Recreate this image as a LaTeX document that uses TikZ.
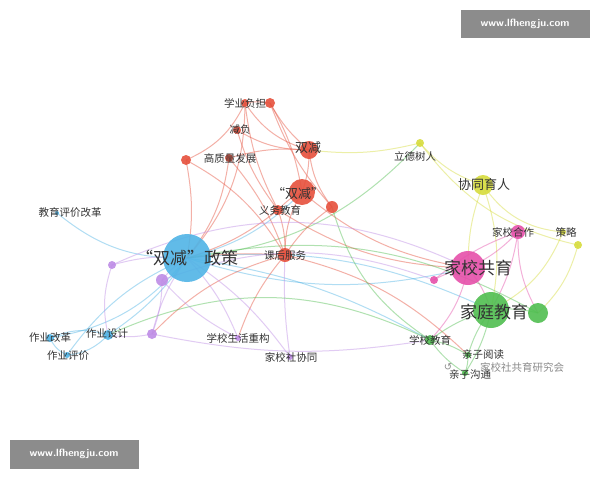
\documentclass[tikz,border=0pt]{standalone}
\usepackage{fontspec}
\newfontfamily\cjk{Noto Sans CJK SC}
\newfontfamily\djv{DejaVu Sans}
\begin{document}
\begin{tikzpicture}[x=1pt,y=-1pt,
 lb/.style={font=\cjk\fontsize{10.5}{10.5}\selectfont,text=black!80,inner sep=0pt},
 mid/.style={font=\cjk\fontsize{13}{13}\selectfont,text=black!80,inner sep=0pt},
 big/.style={font=\cjk\fontsize{17}{17}\selectfont,text=black!80,inner sep=0pt},
 ed/.style={line width=1pt,opacity=0.45}]
\useasboundingbox (0,0) rectangle (600,480);
\fill[white] (0,0) rectangle (600,480);
\definecolor{cb}{RGB}{80,180,230}\definecolor{cr}{RGB}{230,80,60}
\definecolor{cy}{RGB}{215,220,60}\definecolor{cp}{RGB}{230,80,170}
\definecolor{cg}{RGB}{80,190,80}\definecolor{cv}{RGB}{190,140,230}
% nodes
\coordinate (zc) at (187,258);
\coordinate (v1) at (112,265);\coordinate (v2) at (162,280);\coordinate (v3) at (152,334);
\coordinate (v4) at (238,338);\coordinate (v5) at (290,357);
\coordinate (b1) at (57,213);\coordinate (b2) at (50,338);\coordinate (b3) at (108,335);\coordinate (b4) at (67,355);
\coordinate (r1) at (245,103);\coordinate (r2) at (270,103);\coordinate (r3) at (237,130);\coordinate (r4) at (229,158);
\coordinate (r5) at (186,160);\coordinate (r6) at (309,150);\coordinate (r7) at (302,192);\coordinate (r8) at (278,210);
\coordinate (r9) at (332,207);\coordinate (r10) at (285,255);
\coordinate (y1) at (420,143);\coordinate (y2) at (483,185);\coordinate (y3) at (563,232);\coordinate (y4) at (578,245);
\coordinate (p1) at (518,232);\coordinate (p2) at (468,268);\coordinate (p3) at (434,280);
\coordinate (g1) at (491,310);\coordinate (g2) at (538,313);\coordinate (g3) at (430,340);\coordinate (g4) at (468,355);\coordinate (g5) at (465,373);
% edges
\foreach \a/\b/\c/\k in {zc/b1/cb/20,zc/b2/cb/20,zc/b3/cb/10,zc/b4/cb/-15,b2/b3/cb/20,b3/b4/cb/20,b2/b4/cb/-20,zc/g1/cb/15,zc/p2/cb/-15,zc/g3/cb/10,zc/r7/cb/-15,zc/y1/cg/-20,
 zc/r10/cr/5,zc/r8/cr/-10,zc/r5/cr/-10,zc/r4/cr/-15,zc/r1/cr/-20,r5/r1/cr/-20,r1/r2/cr/10,r2/r6/cr/-10,r1/r6/cr/-20,r3/r6/cr/-15,r4/r6/cr/10,r3/r8/cr/-10,r2/r7/cr/10,r6/r7/cr/10,r7/r8/cr/-10,r7/r10/cr/-15,r8/r10/cr/10,r6/r9/cr/-15,r5/r10/cr/15,r2/r9/cr/-10,r10/v3/cr/-15,r10/v4/cr/-10,r9/r10/cr/-10,r7/p2/cr/-15,r8/p2/cr/-15,r10/g4/cr/15,r4/r10/cr/10,r1/r8/cr/-10,r10/v5/cv/-5,
 r6/y1/cy/-10,y1/y2/cy/-15,y1/y4/cy/-20,y2/y3/cy/-25,y2/p2/cy/-10,y2/g1/cy/15,y4/g2/cy/15,y3/g1/cy/20,
 p1/p2/cp/10,p2/g1/cp/10,p1/g1/cp/10,p1/g2/cp/-15,p2/p3/cp/-10,p2/g3/cp/15,p1/p3/cp/-10,v2/p3/cv/20,
 g1/g2/cg/10,g1/g3/cg/-10,g3/g4/cg/10,g4/g5/cg/10,g1/g5/cg/10,g3/g5/cg/-10,g1/g4/cg/-10,r9/g3/cg/-20,zc/g2/cg/20,b3/g3/cg/25,
 v1/zc/cv/10,v2/zc/cv/10,v3/zc/cv/10,v1/b3/cv/-15,v3/b3/cv/10,v3/g3/cv/-10,v4/zc/cv/-10,v5/zc/cv/-10,v2/v3/cv/10,v1/p2/cv/25,v2/v4/cv/-10}
 \draw[ed,draw=\c] (\a) to[bend left=\k] (\b);
% circles
\foreach \p/\r/\c in {zc/24/cb,b1/2/cb,b2/4/cb,b3/5/cb,b4/3/cb,v1/4/cv,v2/6/cv,v3/5/cv,v4/3/cv,v5/3/cv,
 r1/4/cr,r2/5/cr,r3/4/cr,r4/4/cr,r5/5/cr,r6/9/cr,r7/13/cr,r8/5/cr,r9/6/cr,r10/7/cr,
 y1/4/cy,y2/10/cy,y3/3/cy,y4/4/cy,p1/7/cp,p2/17/cp,p3/4/cp,g1/18/cg,g2/10/cg,g3/5/cg,g4/3/cg,g5/3/cg}
 \fill[\c,opacity=0.9] (\p) circle (\r);
% labels
\node[big] (t0) at (187,258) {“双减”政策};
\node[lb] (t1) at (70,213) {教育评价改革};
\node[lb] (t2) at (50,338) {作业改革};
\node[lb] (t3) at (107,334) {作业设计};
\node[lb] (t4) at (68,356) {作业评价};
\node[lb] (t5) at (245,103) {学业负担};
\node[lb] (t6) at (240,130) {减负};
\node[lb] (t7) at (230,159) {高质量发展};
\node[mid] (t8) at (308,148) {双减};
\node[mid] (t9) at (298,194) {“双减”};
\node[lb] (t10) at (280,210) {义务教育};
\node[lb] (t11) at (285,256) {课后服务};
\node[lb] (t12) at (415,156) {立德树人};
\node[mid] (t13) at (484,185) {协同育人};
\node[lb] (t14) at (513,232) {家校合作};
\node[lb] (t15) at (566,232) {策略};
\node[big] (t16) at (478,268) {家校共育};
\node[big] (t17) at (494,312) {家庭教育};
\node[lb] (t18) at (430,340) {学校教育};
\node[lb] (t19) at (238,338) {学校生活重构};
\node[lb] (t20) at (291,357) {家校社协同};
\node[lb] (t21) at (483,355) {亲子阅读};
\node[lb] (t22) at (470,375) {亲子沟通};
\node[lb,text=black!45] (t23) at (522,367) {家校社共育研究会};
\node[lb,text=black!45,font=\djv\fontsize{10}{10}\selectfont] (t24) at (448,367) {↺};
% watermarks
\fill[black!45] (461,10) rectangle (590,38);
\node[text=white,font=\fontfamily{lmss}\selectfont\bfseries\fontsize{10.5}{10.5}\selectfont] (w1) at (525,24) {www.lfhengju.com};
\fill[black!45] (10,440) rectangle (139,469);
\node[text=white,font=\fontfamily{lmss}\selectfont\bfseries\fontsize{10.5}{10.5}\selectfont] (w2) at (74,454) {www.lfhengju.com};
\end{tikzpicture}
\end{document}
